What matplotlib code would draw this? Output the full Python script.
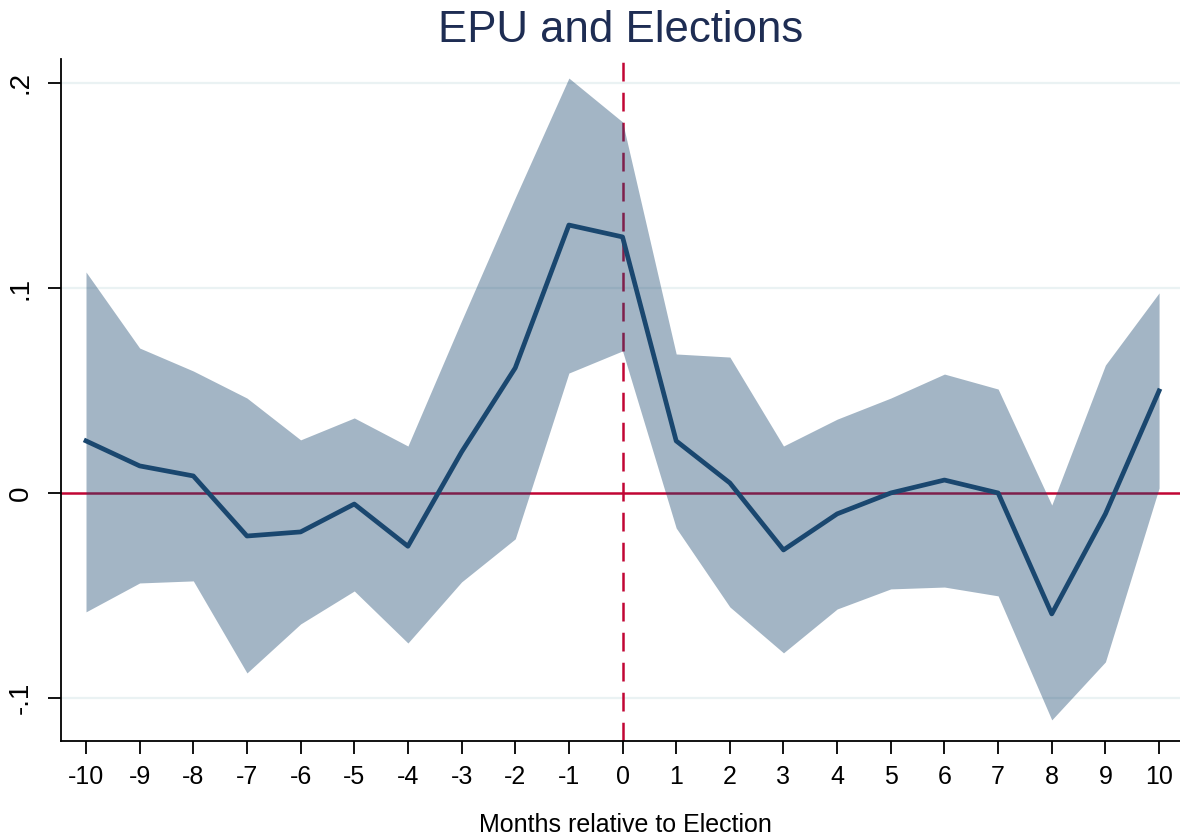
import numpy as np
import matplotlib.pyplot as plt

plt.rcParams['font.family'] = ['Liberation Sans', 'DejaVu Sans']

months = np.arange(-10, 11)
coef = [0.0254, 0.0132, 0.0083, -0.0210, -0.0190, -0.0054, -0.0260, 0.0200, 0.0610, 0.1307, 0.1249,
        0.0254, 0.0049, -0.0278, -0.0102, 0.0000, 0.0063, 0.0000, -0.0590, -0.0102, 0.0498]
upper = [0.1078, 0.0707, 0.0595, 0.0463, 0.0259, 0.0366, 0.0229, 0.0840, 0.1440, 0.2024, 0.1810,
         0.0678, 0.0663, 0.0229, 0.0360, 0.0463, 0.0580, 0.0507, -0.0059, 0.0624, 0.0976]
lower = [-0.0580, -0.0439, -0.0429, -0.0878, -0.0639, -0.0478, -0.0732, -0.0434, -0.0224, 0.0585, 0.0693,
         -0.0171, -0.0556, -0.0780, -0.0566, -0.0468, -0.0459, -0.0502, -0.1107, -0.0824, 0.0024]
yticks = [-0.1, 0, 0.1, 0.2]
ylabels = ['-.1', '0', '.1', '.2']

navy = '#1a476f'
red = '#c10534'

fig = plt.figure(figsize=(11.8, 8.39), dpi=100)
ax = fig.add_axes([61/1180, 1 - 741/839, 1 - 61/1180, (741 - 59)/839])

for y in yticks:
    if y != 0:
        ax.axhline(y, color='#eaf2f3', lw=1.6, zorder=0)

ax.axhline(0, color=red, lw=1.8, zorder=1)
ax.axvline(0, color=red, lw=1.8, ls=(0, (7.5, 4.5)), zorder=1)
ax.fill_between(months, lower, upper, color=navy, alpha=0.4, lw=0, zorder=2)
ax.plot(months, coef, color=navy, lw=3.4, zorder=3)

ax.set_xlim(-10.466, 10.39)
ax.set_ylim(-0.121, 0.2117)
ax.set_xticks(months)
ax.set_xticklabels([str(m) for m in months])
ax.set_yticks(yticks)
ax.set_yticklabels(ylabels, rotation=90, va='center')

for s in ['top', 'right']:
    ax.spines[s].set_visible(False)
for s in ['left', 'bottom']:
    ax.spines[s].set_linewidth(1.3)
ax.tick_params(direction='out', length=9.5, width=1.3, labelsize=18, pad=8)
ax.tick_params(axis='y', labelsize=20, pad=10)

fig.text(0.53, 1 - 825/839, 'Months relative to Election', ha='center', va='center', fontsize=18)
fig.text(0.526, 1 - 30/839, 'EPU and Elections', ha='center', va='center',
         fontsize=31.5, color='#1e2d53')

fig.savefig('out.png', dpi=100)
